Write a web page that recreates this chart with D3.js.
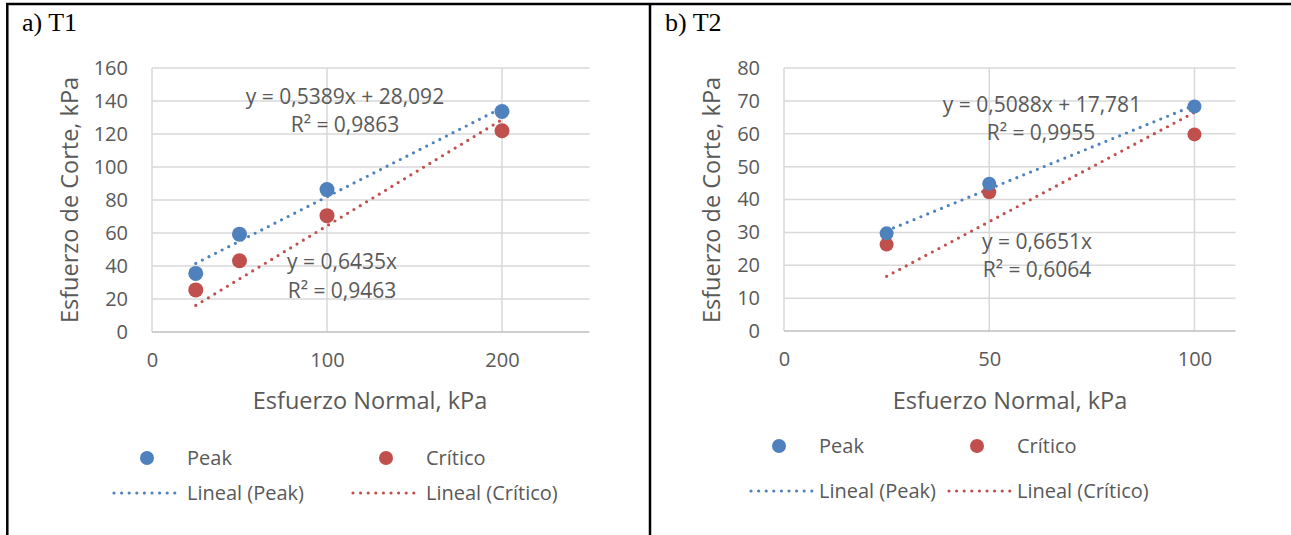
<!DOCTYPE html>
<html>
<head>
<meta charset="utf-8">
<script src="https://cdn.jsdelivr.net/npm/d3@7"></script>
<style>
  body { margin: 0; background: #fff; }
  svg text { font-family: "Open Sans", sans-serif; fill: #595959; }
</style>
</head>
<body>
<div id="chart"></div>
<script>
// panel a) T1
var t1Normal = [25, 50, 100, 200];
var t1Peak = [35.5, 59.3, 86.3, 133.6];
var t1Critico = [25.5, 43.2, 70.5, 122];
var t1PeakFit = [0.5389, 28.092];
var t1CritFit = [0.6435, 0];
var t1XTicks = [0, 100, 200];
var t1YTicks = [0, 20, 40, 60, 80, 100, 120, 140, 160];

// panel b) T2
var t2Normal = [25, 50, 100];
var t2Peak = [29.7, 44.8, 68.3];
var t2Critico = [26.3, 42.2, 59.8];
var t2PeakFit = [0.5088, 17.781];
var t2CritFit = [0.6651, 0];
var t2XTicks = [0, 50, 100];
var t2YTicks = [0, 10, 20, 30, 40, 50, 60, 70, 80];

var blue = "#4f81bd", red = "#c0504d";

var svg = d3.select("#chart").append("svg")
    .attr("width", 1291)
    .attr("height", 535);

// table borders
svg.append("line").attr("x1", 6).attr("x2", 1291).attr("y1", 4).attr("y2", 4)
    .attr("stroke", "#000").attr("stroke-width", 2.5);
svg.append("line").attr("x1", 7.3).attr("x2", 7.3).attr("y1", 3).attr("y2", 535)
    .attr("stroke", "#000").attr("stroke-width", 2.5);
svg.append("line").attr("x1", 650).attr("x2", 650).attr("y1", 3).attr("y2", 535)
    .attr("stroke", "#000").attr("stroke-width", 2.5);

function panel(cfg) {
    var x = d3.scaleLinear().domain(cfg.xDomain).range(cfg.xRange);
    var y = d3.scaleLinear().domain(cfg.yDomain).range(cfg.yRange);
    var g = svg.append("g");

    g.append("text")
        .attr("x", cfg.titleX).attr("y", 31)
        .style("font-family", "'Liberation Serif', 'Times New Roman', serif")
        .style("font-size", "26px")
        .style("fill", "#000")
        .text(cfg.title);

    // horizontal gridlines
    g.selectAll(".hgrid")
        .data(cfg.yTicks.slice(1))
        .enter().append("line")
        .attr("x1", x.range()[0]).attr("x2", x.range()[1])
        .attr("y1", function (d) { return y(d); })
        .attr("y2", function (d) { return y(d); })
        .attr("stroke", "#d9d9d9").attr("stroke-width", 1.5);

    // vertical gridlines
    g.selectAll(".vgrid")
        .data(cfg.xTicks)
        .enter().append("line")
        .attr("x1", function (d) { return x(d); })
        .attr("x2", function (d) { return x(d); })
        .attr("y1", y.range()[0]).attr("y2", y.range()[1])
        .attr("stroke", "#d9d9d9").attr("stroke-width", 1.5);

    // bottom axis line
    g.append("line")
        .attr("x1", x.range()[0]).attr("x2", x.range()[1])
        .attr("y1", y(0)).attr("y2", y(0))
        .attr("stroke", "#bfbfbf").attr("stroke-width", 1.5);

    var xAxis = d3.axisBottom(x).tickValues(cfg.xTicks).tickSize(0).tickPadding(21);
    var yAxis = d3.axisLeft(y).tickValues(cfg.yTicks).tickSize(0).tickPadding(24);

    g.append("g")
        .attr("transform", "translate(0," + y(0) + ")")
        .call(xAxis)
        .call(function (a) { a.select(".domain").remove(); })
        .selectAll("text")
        .style("font-size", "20px").style("font-family", "'Open Sans', sans-serif")
        .attr("fill", "#595959");

    g.append("g")
        .attr("transform", "translate(" + x(0) + ",0)")
        .call(yAxis)
        .call(function (a) { a.select(".domain").remove(); })
        .selectAll("text")
        .style("font-size", "20px").style("font-family", "'Open Sans', sans-serif")
        .attr("fill", "#595959");

    // axis titles
    g.append("text")
        .attr("x", cfg.xTitleX).attr("y", 409)
        .attr("text-anchor", "middle")
        .style("font-size", "23.5px")
        .text("Esfuerzo Normal, kPa");
    g.append("text")
        .attr("transform", "translate(" + cfg.yTitleX + "," + 200 + ") rotate(-90)")
        .attr("text-anchor", "middle")
        .style("font-size", "23.5px")
        .text("Esfuerzo de Corte, kPa");

    // trendlines
    var x0 = d3.min(cfg.normal), x1 = d3.max(cfg.normal);
    [[cfg.peakFit, blue], [cfg.critFit, red]].forEach(function (f) {
        var line = d3.line()
            .x(function (d) { return x(d); })
            .y(function (d) { return y(f[0][0] * d + f[0][1]); });
        g.append("path")
            .attr("d", line([x0, x1]))
            .attr("fill", "none")
            .attr("stroke", f[1])
            .attr("stroke-width", 3.2)
            .attr("stroke-linecap", "round")
            .attr("stroke-dasharray", "0,7.4");
    });

    // points
    g.selectAll(".crit")
        .data(cfg.critico)
        .enter().append("circle")
        .attr("cx", function (d, i) { return x(cfg.normal[i]); })
        .attr("cy", function (d) { return y(d); })
        .attr("r", cfg.r)
        .attr("fill", red);
    g.selectAll(".peak")
        .data(cfg.peak)
        .enter().append("circle")
        .attr("cx", function (d, i) { return x(cfg.normal[i]); })
        .attr("cy", function (d) { return y(d); })
        .attr("r", cfg.r)
        .attr("fill", blue);

    // equation labels
    cfg.labels.forEach(function (l) {
        g.append("text")
            .attr("x", l[0]).attr("y", l[1])
            .attr("text-anchor", "middle")
            .style("font-size", "21px")
            .text(l[2]);
    });

    // legend
    var lg = cfg.legend;
    [[lg.x1, blue, "Peak"], [lg.x2, red, "Crítico"]].forEach(function (it) {
        g.append("circle")
            .attr("cx", it[0] - 40).attr("cy", lg.y1)
            .attr("r", 7).attr("fill", it[1]);
        g.append("text")
            .attr("x", it[0]).attr("y", lg.y1 + 7)
            .style("font-size", "20px")
            .text(it[2]);
        g.append("line")
            .attr("x1", it[0] - lg.lineLen - 6).attr("x2", it[0] - 6)
            .attr("y1", lg.y2).attr("y2", lg.y2)
            .attr("stroke", it[1]).attr("stroke-width", 3.2)
            .attr("stroke-linecap", "round")
            .attr("stroke-dasharray", "0,7.6");
        g.append("text")
            .attr("x", it[0]).attr("y", lg.y2 + 7)
            .style("font-size", "20px")
            .text("Lineal (" + it[2] + ")");
    });
}

panel({
    title: "a) T1", titleX: 22,
    normal: t1Normal, peak: t1Peak, critico: t1Critico,
    peakFit: t1PeakFit, critFit: t1CritFit,
    xTicks: t1XTicks, yTicks: t1YTicks,
    xDomain: [0, 250], xRange: [152, 589.5],
    yDomain: [0, 160], yRange: [332, 68],
    xTitleX: 370, yTitleX: 78, r: 7.5,
    labels: [
        [345, 104, "y = 0,5389x + 28,092"],
        [345, 132, "R² = 0,9863"],
        [342, 269, "y = 0,6435x"],
        [342, 298, "R² = 0,9463"]
    ],
    legend: { x1: 187, x2: 426, y1: 458, y2: 493, lineLen: 67 }
});

panel({
    title: "b) T2", titleX: 665,
    normal: t2Normal, peak: t2Peak, critico: t2Critico,
    peakFit: t2PeakFit, critFit: t2CritFit,
    xTicks: t2XTicks, yTicks: t2YTicks,
    xDomain: [0, 110], xRange: [784, 1235.5],
    yDomain: [0, 80], yRange: [331, 68],
    xTitleX: 1010, yTitleX: 720, r: 7,
    labels: [
        [1042, 112, "y = 0,5088x + 17,781"],
        [1041, 140, "R² = 0,9955"],
        [1037, 249, "y = 0,6651x"],
        [1037, 277, "R² = 0,6064"]
    ],
    legend: { x1: 819, x2: 1017, y1: 446, y2: 491, lineLen: 62 }
});
</script>
</body>
</html>
